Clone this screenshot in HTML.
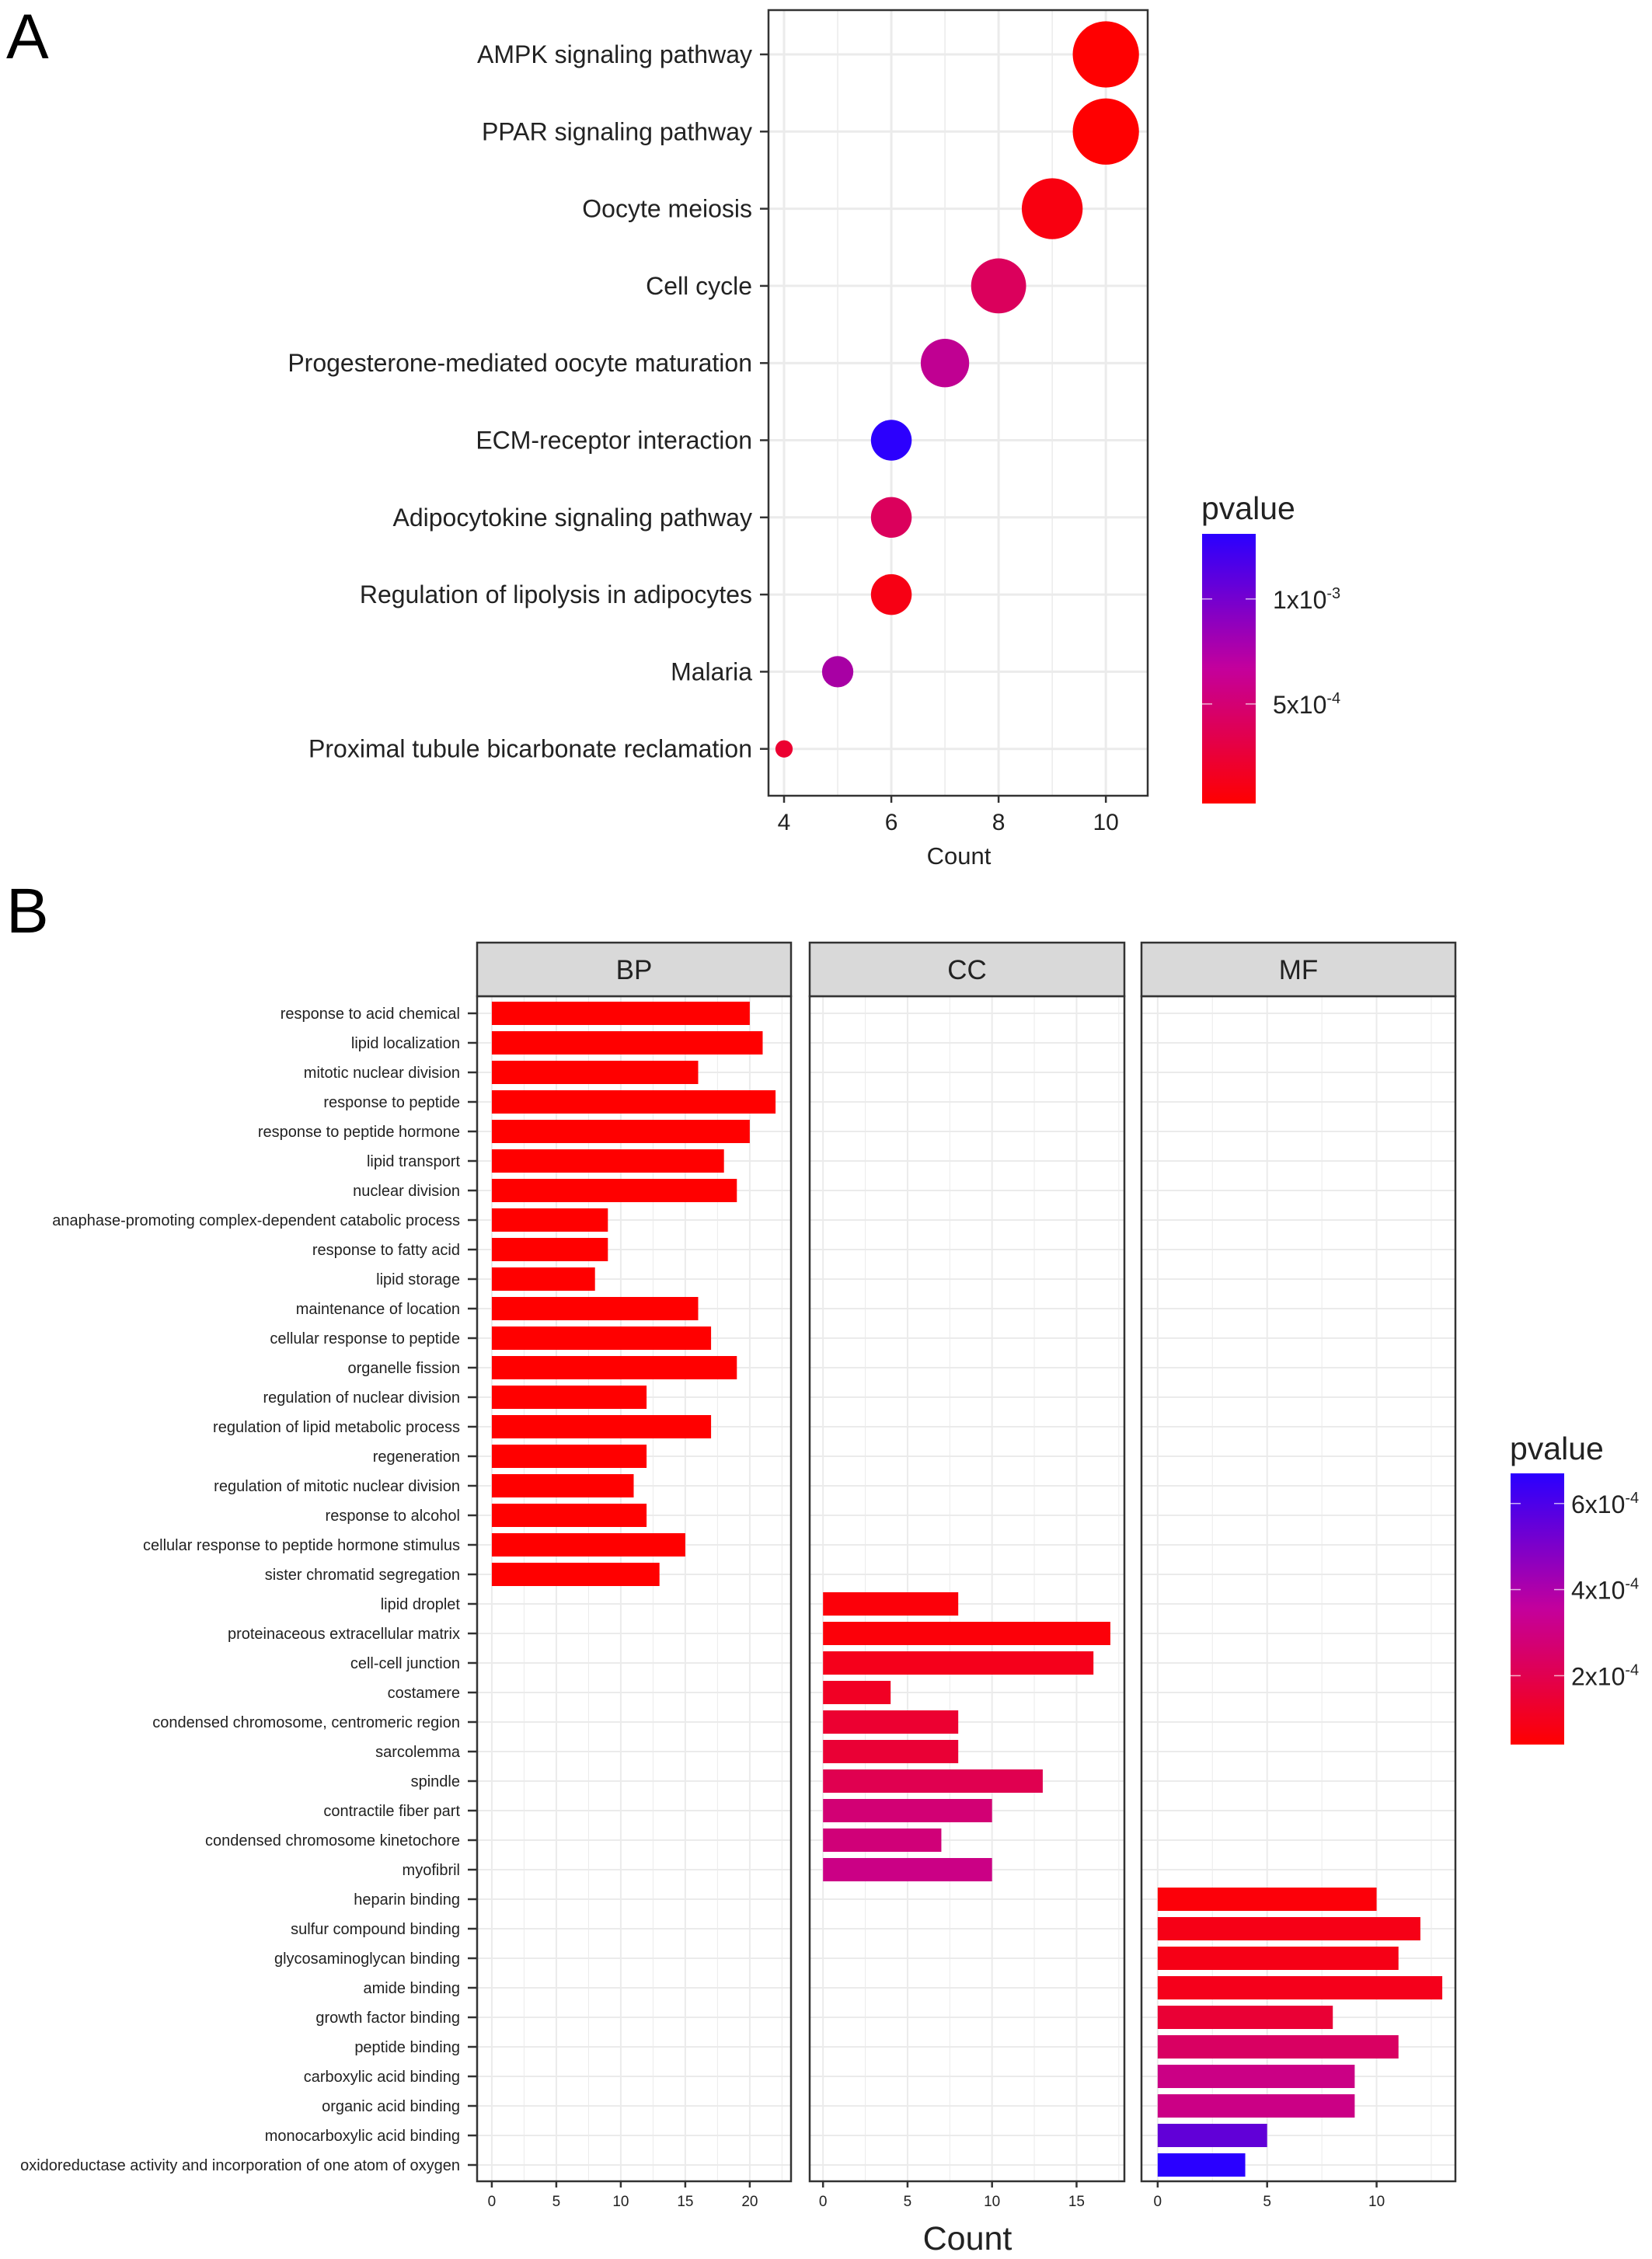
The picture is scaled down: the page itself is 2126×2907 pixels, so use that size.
<!DOCTYPE html>
<html><head><meta charset="utf-8"><style>
html,body{margin:0;padding:0;background:#fff;}
svg{display:block;font-family:"Liberation Sans",Arial,sans-serif;}
</style></head><body>
<svg id="chart" width="2126" height="2907" viewBox="0 0 2126 2907" xmlns="http://www.w3.org/2000/svg">
<defs>
<linearGradient id="gA" x1="0" y1="1" x2="0" y2="0"><stop offset="0" stop-color="#ff0000"/><stop offset="0.5" stop-color="#c4009c"/><stop offset="1" stop-color="#2a00ff"/></linearGradient>
<linearGradient id="gB" x1="0" y1="1" x2="0" y2="0"><stop offset="0" stop-color="#ff0000"/><stop offset="0.5" stop-color="#c4009c"/><stop offset="1" stop-color="#2a00ff"/></linearGradient>
</defs>
<text x="8" y="75" font-size="82">A</text>
<text x="8" y="1200" font-size="82">B</text>
</svg>
<script>
// Panel A data
const aCats=["AMPK signaling pathway","PPAR signaling pathway","Oocyte meiosis","Cell cycle","Progesterone-mediated oocyte maturation","ECM-receptor interaction","Adipocytokine signaling pathway","Regulation of lipolysis in adipocytes","Malaria","Proximal tubule bicarbonate reclamation"];
const aCounts=[10,10,9,8,7,6,6,6,5,4];
const aPvals=[3e-5,3e-5,1e-4,4.5e-4,7e-4,1.3e-3,4.5e-4,1.2e-4,8e-4,2.5e-4];
const aTicks=[4,6,8,10];
const aLegendTicks=[1e-3,5e-4];
const aLegendLabels=["1x10","5x10"];
const aLegendExp=["-3","-4"];
// Panel B data
const bpCats=["response to acid chemical","lipid localization","mitotic nuclear division","response to peptide","response to peptide hormone","lipid transport","nuclear division","anaphase-promoting complex-dependent catabolic process","response to fatty acid","lipid storage","maintenance of location","cellular response to peptide","organelle fission","regulation of nuclear division","regulation of lipid metabolic process","regeneration","regulation of mitotic nuclear division","response to alcohol","cellular response to peptide hormone stimulus","sister chromatid segregation"];
const bpCounts=[20,21,16,22,20,18,19,9,9,8,16,17,19,12,17,12,11,12,15,13];
const bpPvals=[4e-5,4e-5,4e-5,4e-5,4e-5,4e-5,4e-5,4e-5,4e-5,4e-5,4e-5,4e-5,4e-5,4e-5,4e-5,4e-5,4e-5,4e-5,4e-5,4e-5];
const ccCats=["lipid droplet","proteinaceous extracellular matrix","cell-cell junction","costamere","condensed chromosome, centromeric region","sarcolemma","spindle","contractile fiber part","condensed chromosome kinetochore","myofibril"];
const ccCounts=[8,17,16,4,8,8,13,10,7,10];
const ccPvals=[6e-5,6e-5,1e-4,1.2e-4,1.5e-4,1.6e-4,2.2e-4,3e-4,3.1e-4,3.4e-4];
const mfCats=["heparin binding","sulfur compound binding","glycosaminoglycan binding","amide binding","growth factor binding","peptide binding","carboxylic acid binding","organic acid binding","monocarboxylic acid binding","oxidoreductase activity and incorporation of one atom of oxygen"];
const mfCounts=[10,12,11,13,8,11,9,9,5,4];
const mfPvals=[6e-5,9e-5,9e-5,1e-4,1.6e-4,2.6e-4,3.4e-4,3.4e-4,5.6e-4,6.7e-4];
const bpTicks=[0,5,10,15,20], ccTicks=[0,5,10,15], mfTicks=[0,5,10];
const bLegendTicks=[6e-4,4e-4,2e-4];
const bLegendLabels=["6x10","4x10","2x10"];

const NS="http://www.w3.org/2000/svg";
const svg=document.getElementById('chart');
function mk(tag,attrs,parent){const e=document.createElementNS(NS,tag);for(const k in attrs)e.setAttribute(k,attrs[k]);(parent||svg).appendChild(e);return e;}
function col(p,min,max){let t=(p-min)/(max-min);t=Math.max(0,Math.min(1,t));
  const stops=[[255,0,0],[200,0,140],[42,0,255]];let a,b,u;
  if(t<0.5){a=stops[0];b=stops[1];u=t/0.5;}else{a=stops[1];b=stops[2];u=(t-0.5)/0.5;}
  return `rgb(${Math.round(a[0]+(b[0]-a[0])*u)},${Math.round(a[1]+(b[1]-a[1])*u)},${Math.round(a[2]+(b[2]-a[2])*u)})`;}

// ===== Panel A =====
const A={l:989,r:1477,t:13,b:1024,xmin:3.71,xmax:10.78,y0:70,dy:99.3};
const ax=v=>A.l+(v-A.xmin)/(A.xmax-A.xmin)*(A.r-A.l);
const ay=i=>A.y0+i*A.dy;
const gA=mk('g',{});


for(let v=4;v<=10;v++){const l=mk('line',{x1:ax(v),x2:ax(v),y1:A.t,y2:A.b,stroke:'#ebebeb','stroke-width':v%2?1.5:3},gA);
  }
aCats.forEach((c,i)=>{const l=mk('line',{x1:A.l,x2:A.r,y1:ay(i),y2:ay(i),stroke:'#ebebeb','stroke-width':3},gA);
  });
const aMinP=2.6e-5,aMaxP=1.31e-3;
aCats.forEach((c,i)=>{const r=1.855*Math.sqrt(36+82*(aCounts[i]-4));
  const d=mk('circle',{cx:ax(aCounts[i]),cy:ay(i),r:r,fill:col(aPvals[i],aMinP,aMaxP)},gA);
  
  const t=mk('text',{x:968,y:ay(i)+11,'font-size':32,'text-anchor':'end',fill:'#222'},gA);t.textContent=c;
  
  mk('line',{x1:978,x2:A.l,y1:ay(i),y2:ay(i),stroke:'#333','stroke-width':2.5},gA);});
aTicks.forEach(v=>{mk('line',{x1:ax(v),x2:ax(v),y1:A.b,y2:A.b+9,stroke:'#333','stroke-width':2.5},gA);
  const t=mk('text',{x:ax(v),y:A.b+44,'font-size':30,'text-anchor':'middle',fill:'#222'},gA);t.textContent=v;
  });
const fA=mk('rect',{x:A.l,y:A.t,width:A.r-A.l,height:A.b-A.t,fill:'none',stroke:'#333','stroke-width':2.5},gA);

const xtA=mk('text',{x:1234,y:1112,'font-size':31,'text-anchor':'middle',fill:'#222'},gA);xtA.textContent='Count';

// legend A
const LA={x:1547,w:69,t:687,b:1034};
const lgA=mk('g',{});
const ltA=mk('text',{x:1546,y:668,'font-size':41,fill:'#222'},lgA);ltA.textContent='pvalue';

mk('rect',{x:LA.x,y:LA.t,width:LA.w,height:LA.b-LA.t,fill:'url(#gA)'},lgA);
const lay=p=>LA.b-(p-aMinP)/(aMaxP-aMinP)*(LA.b-LA.t);
aLegendTicks.forEach((p,i)=>{const y=lay(p);
  mk('line',{x1:LA.x,x2:LA.x+13,y1:y,y2:y,stroke:'#fff','stroke-width':1.5,opacity:.7},lgA);
  mk('line',{x1:LA.x+LA.w-13,x2:LA.x+LA.w,y1:y,y2:y,stroke:'#fff','stroke-width':1.5,opacity:.7},lgA);
  const t=mk('text',{x:1638,y:y+12,'font-size':32,fill:'#222'},lgA);t.textContent=aLegendLabels[i];
  const s=mk('tspan',{dy:-13,'font-size':20},t);s.textContent=aLegendExp[i];
  });

// ===== Panel B =====
const B={t:1282,st:1213,b:2807,y0:1304,dy:38.0,bh:30};
const by=i=>B.y0+i*B.dy;
const bMinP=4e-5,bMaxP=6.7e-4;
const allCats=bpCats.concat(ccCats,mfCats);
const facets=[
 {name:'BP',l:614,r:1018,xmin:-1.14,xmax:23.2,cats:bpCats,counts:bpCounts,pv:bpPvals,off:0,ticks:bpTicks},
 {name:'CC',l:1042,r:1447,xmin:-0.79,xmax:17.83,cats:ccCats,counts:ccCounts,pv:ccPvals,off:20,ticks:ccTicks},
 {name:'MF',l:1469,r:1873,xmin:-0.74,xmax:13.6,cats:mfCats,counts:mfCounts,pv:mfPvals,off:30,ticks:mfTicks}];
allCats.forEach((c,i)=>{const t=mk('text',{x:592,y:by(i)+7,'font-size':20,'text-anchor':'end',fill:'#222'});t.textContent=c;
  
  mk('line',{x1:602,x2:614,y1:by(i),y2:by(i),stroke:'#333','stroke-width':2.5});});
facets.forEach(f=>{
  const g=mk('g',{});
  const fx=v=>f.l+(v-f.xmin)/(f.xmax-f.xmin)*(f.r-f.l);
  for(let v=0;v<=f.xmax;v+=2.5){mk('line',{x1:fx(v),x2:fx(v),y1:B.t,y2:B.b,stroke:'#ebebeb','stroke-width':v%5?1:2},g);}
  allCats.forEach((c,i)=>mk('line',{x1:f.l,x2:f.r,y1:by(i),y2:by(i),stroke:'#ebebeb','stroke-width':2},g));
  f.cats.forEach((c,j)=>{const i=f.off+j;
    const r=mk('rect',{x:fx(0),y:by(i)-B.bh/2,width:fx(f.counts[j])-fx(0),height:B.bh,fill:col(f.pv[j],bMinP,bMaxP)},g);
    });
  mk('rect',{x:f.l,y:B.t,width:f.r-f.l,height:B.b-B.t,fill:'none',stroke:'#333','stroke-width':2.5},g);
  const s=mk('rect',{x:f.l,y:B.st,width:f.r-f.l,height:B.t-B.st,fill:'#d9d9d9',stroke:'#333','stroke-width':2.5},g);
  
  const st=mk('text',{x:(f.l+f.r)/2,y:B.st+47,'font-size':35,'text-anchor':'middle',fill:'#222'},g);st.textContent=f.name;
  
  f.ticks.forEach(v=>{mk('line',{x1:fx(v),x2:fx(v),y1:B.b,y2:B.b+8,stroke:'#333','stroke-width':2.5},g);
    const t=mk('text',{x:fx(v),y:B.b+32,'font-size':19,'text-anchor':'middle',fill:'#222'},g);t.textContent=v;
    });
});
const xtB=mk('text',{x:1245,y:2895,'font-size':43,'text-anchor':'middle',fill:'#222'});xtB.textContent='Count';

// legend B
const LB={x:1944,w:69,t:1896,b:2245};
const lgB=mk('g',{});
const ltB=mk('text',{x:1943,y:1878,'font-size':41,fill:'#222'},lgB);ltB.textContent='pvalue';

mk('rect',{x:LB.x,y:LB.t,width:LB.w,height:LB.b-LB.t,fill:'url(#gB)'},lgB);
const lby=p=>LB.b-(p-bMinP)/(bMaxP-bMinP)*(LB.b-LB.t);
bLegendTicks.forEach((p,i)=>{const y=lby(p);
  mk('line',{x1:LB.x,x2:LB.x+13,y1:y,y2:y,stroke:'#fff','stroke-width':1.5,opacity:.7},lgB);
  mk('line',{x1:LB.x+LB.w-13,x2:LB.x+LB.w,y1:y,y2:y,stroke:'#fff','stroke-width':1.5,opacity:.7},lgB);
  const t=mk('text',{x:2022,y:y+12,'font-size':32,fill:'#222'},lgB);t.textContent=bLegendLabels[i];
  const s=mk('tspan',{dy:-13,'font-size':20},t);s.textContent='-4';
  });
</script>
</body></html>
